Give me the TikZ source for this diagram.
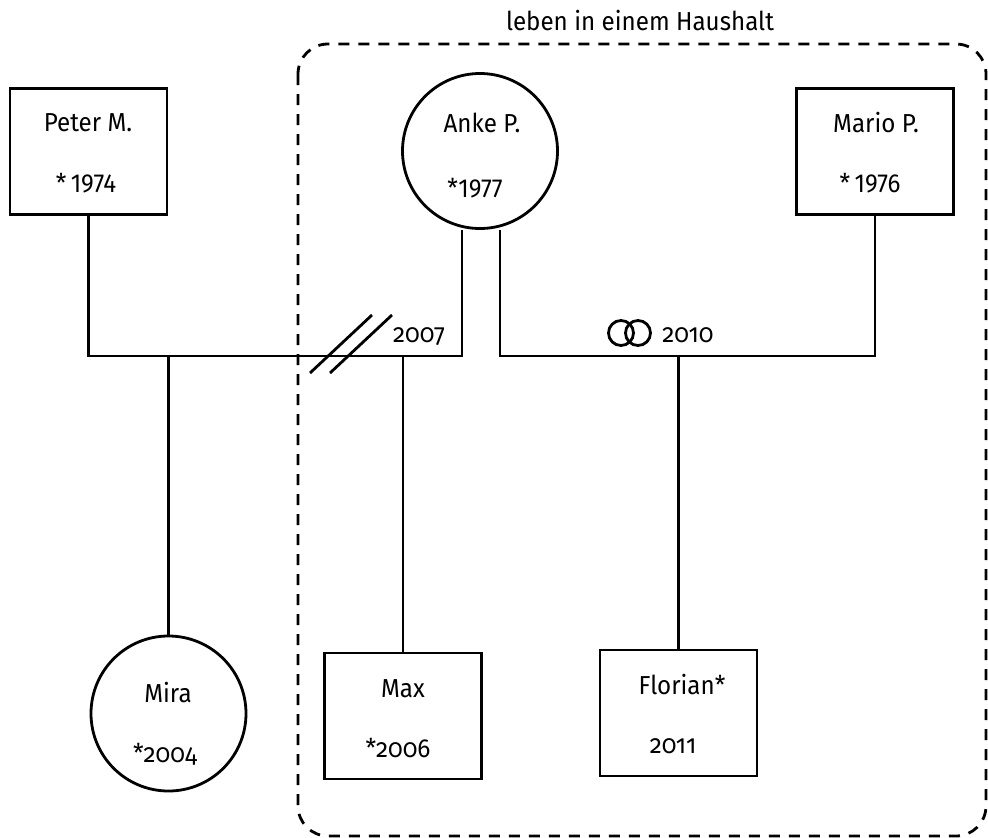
\documentclass[tikz,border=0pt]{standalone}
\usepackage{fontspec}
\setmainfont{Fira Sans}[FakeStretch=0.93]
\newfontfamily\oldnum{Fira Sans}[FakeStretch=0.93, Numbers=OldStyle]
\begin{document}
\begin{tikzpicture}[x=1pt,y=-1pt,
  lw/.style={line width=2.8pt},
  person/.style={lw, draw=black, inner sep=0pt},
  male/.style={person, rectangle, minimum width=157pt, minimum height=126pt},
  female/.style={person, circle, minimum size=155pt},
  txt/.style={anchor=base, inner sep=0pt, font=\fontsize{26}{30}\selectfont},
  yr/.style={anchor=base, inner sep=0pt, font=\fontsize{26}{30}\selectfont\oldnum},
  household/.style={lw, dash pattern=on 11pt off 9pt, rounded corners=30pt}
]
\useasboundingbox (0,0) rectangle (988,838);

% household frame and its caption
\draw[household] (298,44) rectangle (986,836);
\node[txt] (hh) at (640,30) {leben in einem Haushalt};

% persons
\node[male]   (peter)   at (88.5,151.5) {};
\node[female] (anke)    at (480,151) {};
\node[male]   (mario)   at (875,151.5) {};
\node[female] (mira)    at (168.5,713.5) {};
\node[male]   (max)     at (403,716) {};
\node[male]   (florian) at (678.5,713) {};

% names and birth years
\node[txt] (peterN)   at (88,131)  {Peter M.};
\node[txt] (peterY)   at (86,192)  {*\,1974};
\node[txt] (ankeN)    at (482,132) {Anke P.};
\node[txt] (ankeY)    at (475,197) {*1977};
\node[txt] (marioN)   at (876,132) {Mario P.};
\node[txt] (marioY)   at (870,192) {*\,1976};
\node[txt] (miraN)    at (168,702) {Mira};
\node[yr]  (miraY)    at (165,762) {*2004};
\node[txt] (maxN)     at (403,697) {Max};
\node[yr]  (maxY)     at (398,757) {*2006};
\node[txt] (florianN) at (682,694) {Florian*};
\node[yr]  (florianY) at (673,753) {2011};

% junction points on the partnership lines
\coordinate (lineL) at (0,356);
\coordinate (ankeL) at (462,0);
\coordinate (ankeR) at (500,0);

% first partnership: Peter -- Anke
\draw[lw] (peter.south) -- (peter.south |- lineL) -- (ankeL |- lineL) -- (ankeL |- anke.south);
% second partnership: Anke -- Mario
\draw[lw] (ankeR |- anke.south) -- (ankeR |- lineL) -- (mario.south |- lineL) -- (mario.south);

% children
\draw[lw] (mira.north |- lineL) -- (mira.north);
\draw[lw] (max.north |- lineL) -- (max.north);
\draw[lw] (florian.north |- lineL) -- (florian.north);

% divorce marks and year
\coordinate (d1a) at (310,373); \coordinate (d1b) at (372,315);
\coordinate (d2a) at (330,373); \coordinate (d2b) at (392,315);
\draw[lw] (d1a) -- (d1b);
\draw[lw] (d2a) -- (d2b);
\node[yr] (sep) at (419,342) {2007};

% marriage rings and year
\node[circle, draw, lw, minimum size=25pt, inner sep=0pt] (ring1) at (621,333) {};
\node[circle, draw, lw, minimum size=25pt, inner sep=0pt] (ring2) at (638,333) {};
\node[yr] (wed) at (688,342) {2010};
\end{tikzpicture}
\end{document}
